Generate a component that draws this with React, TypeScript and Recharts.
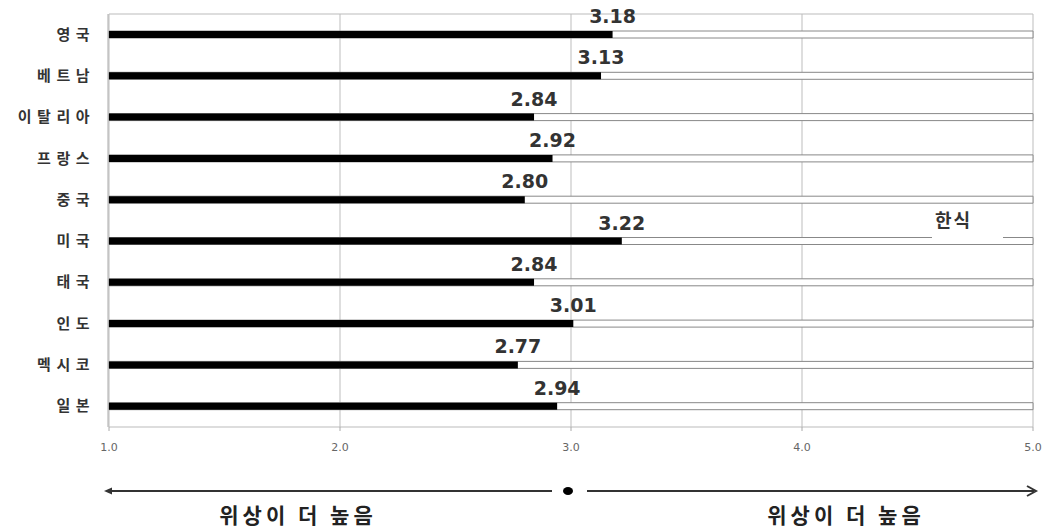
import { BarChart, Bar, XAxis, YAxis, CartesianGrid, LabelList, Legend } from 'recharts'

// 국가별 한식 위상 평가 (1.0 ~ 5.0)
const countries = ['영국', '베트남', '이탈리아', '프랑스', '중국', '미국', '태국', '인도', '멕시코', '일본']
const scores = [3.18, 3.13, 2.84, 2.92, 2.80, 3.22, 2.84, 3.01, 2.77, 2.94]
const xTicks = [1, 2, 3, 4, 5]
const rowEdges = [0, 1, 2, 3, 4, 5, 6, 7, 8, 9, 10]
const seriesName = '한식'
const directionLabel = '위상이 더 높음'

const data = countries.map((country, i) => ({ country, score: scores[i] }))

const KR_FONT = '"Noto Sans CJK KR", "Noto Sans", sans-serif'
const NUM_FONT = '"DejaVu Sans", Verdana, sans-serif'

const CountryTick = (props: any) => {
  const { x, y, payload } = props
  return (
    <text
      x={Number(x) - 6}
      y={Number(y)}
      dy={5}
      textAnchor="end"
      fontFamily={KR_FONT}
      fontWeight={700}
      fontSize={15}
      letterSpacing={5.5}
      fill="#333"
    >
      {payload.value}
    </text>
  )
}

const ScoreLabel = (props: any) => {
  const { x, y, width, value } = props
  return (
    <text
      x={Number(x) + Number(width)}
      y={Number(y) - 8}
      textAnchor="middle"
      fontFamily={NUM_FONT}
      fontWeight={700}
      fontSize={19}
      fill="#333"
    >
      {Number(value).toFixed(2)}
    </text>
  )
}

const SeriesLegend = (props: any) => {
  const { payload } = props
  return (
    <div style={{ paddingLeft: 3, fontFamily: KR_FONT, fontWeight: 700, fontSize: 18, letterSpacing: 2, color: '#333', lineHeight: '22px' }}>
      {(payload || []).map((p: any) => (
        <span key={p.value}>{p.value}</span>
      ))}
    </div>
  )
}

export default function App() {
  return (
    <div style={{ position: 'absolute', left: 0, top: 0, width: 1047, height: 528, background: '#fff' }}>
      <BarChart
        width={1047}
        height={528}
        data={data}
        layout="vertical"
        margin={{ top: 13, right: 14, left: 107, bottom: 71 }}
      >
        <CartesianGrid horizontal={false} stroke="#bdbdbd" />
        <XAxis
          type="number"
          domain={[1, 5]}
          ticks={xTicks}
          tickFormatter={(v: number) => v.toFixed(1)}
          height={30}
          tickSize={4}
          tickMargin={12}
          axisLine={{ stroke: '#bbb' }}
          tickLine={{ stroke: '#aaa' }}
          tick={{ fontSize: 11, fill: '#666', fontFamily: NUM_FONT }}
        />
        <XAxis
          xAxisId="top"
          orientation="top"
          type="number"
          domain={[1, 5]}
          height={1}
          tick={false}
          tickLine={false}
          axisLine={{ stroke: '#bbb' }}
        />
        <YAxis
          yAxisId="edge"
          type="number"
          domain={[0, 10]}
          ticks={rowEdges}
          width={1}
          tick={false}
          tickSize={4}
          axisLine={{ stroke: '#aaa' }}
          tickLine={{ stroke: '#aaa' }}
        />
        <YAxis
          yAxisId="cat"
          type="category"
          dataKey="country"
          width={1}
          axisLine={false}
          tickLine={false}
          tick={<CountryTick />}
        />
        <Legend
          layout="horizontal"
          verticalAlign="middle"
          align="center"
          content={<SeriesLegend />}
          wrapperStyle={{ position: 'absolute', left: 932, top: 208, width: 71, height: 30, background: '#fff' }}
        />
        <Bar
          dataKey="score"
          name={seriesName}
          yAxisId="cat"
          fill="#000"
          barSize={7}
          isAnimationActive={false}
          background={{ fill: '#fff', stroke: '#888', strokeWidth: 1 }}
        >
          <LabelList dataKey="score" content={<ScoreLabel />} />
        </Bar>
      </BarChart>

      <svg width={1047} height={528} style={{ position: 'absolute', left: 0, top: 0, pointerEvents: 'none' }}>
        <line x1={108} y1={491} x2={552} y2={491} stroke="#333" strokeWidth={2} />
        <path d="M104,491 L112,487.5 L112,494.5 Z" fill="#333" />
        <ellipse cx={568} cy={491} rx={5} ry={4} fill="#000" />
        <line x1={587} y1={491} x2={1034} y2={491} stroke="#333" strokeWidth={2} />
        <path d="M1027,486 L1036,491 L1027,496" fill="none" stroke="#333" strokeWidth={2} />
        <text x={298} y={523} textAnchor="middle" fontFamily={KR_FONT} fontWeight={700} fontSize={21} letterSpacing={4} fill="#222">
          {directionLabel}
        </text>
        <text x={846} y={523} textAnchor="middle" fontFamily={KR_FONT} fontWeight={700} fontSize={21} letterSpacing={4} fill="#222">
          {directionLabel}
        </text>
      </svg>
    </div>
  )
}
